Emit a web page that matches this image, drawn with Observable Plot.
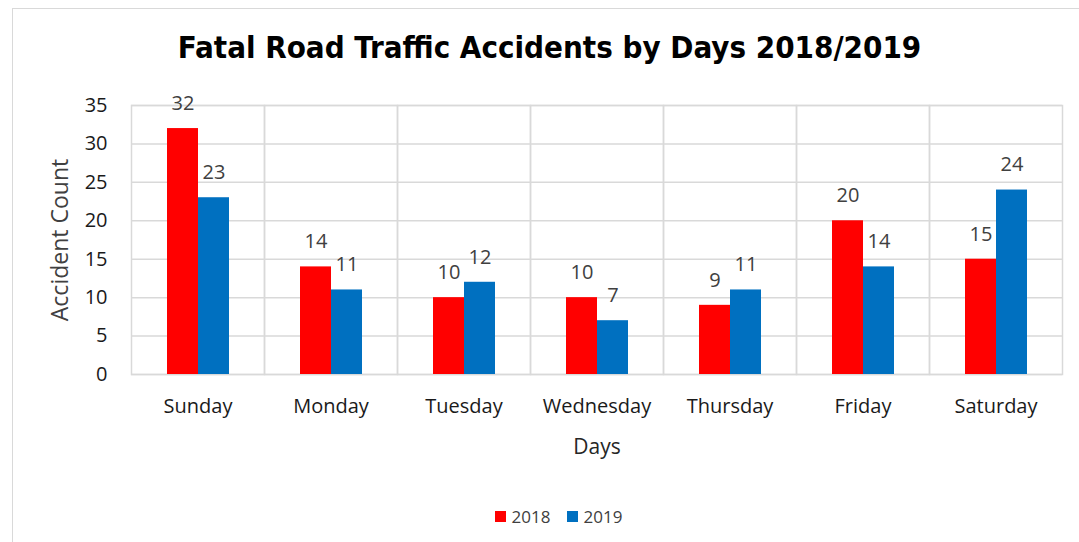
<!DOCTYPE html>
<html>
<head>
<meta charset="utf-8">
<script src="https://cdn.jsdelivr.net/npm/d3@7"></script>
<script src="https://cdn.jsdelivr.net/npm/@observablehq/plot@0.6"></script>
<style>
  html, body { margin: 0; padding: 0; background: #fff; }
  #wrap { position: relative; width: 1079px; height: 542px; overflow: hidden; }
  #frame { position: absolute; left: 12px; top: 8px; width: 1080px; height: 560px; border: 1px solid #d9d9d9; box-sizing: border-box; }
  #title { position: absolute; left: 0; top: 29px; width: 1099px; text-align: center;
    font-family: "Liberation Sans Narrow", "DejaVu Sans Condensed", "Noto Sans", sans-serif; font-stretch: condensed;
    font-weight: bold; font-size: 31px; color: #000; }
  #chart { position: absolute; left: 0; top: 85px; }
  #legend { position: absolute; top: 505px; left: 0; width: 1079px; display: flex; justify-content: center; gap: 16px;
    font-family: "Open Sans", sans-serif; font-size: 17px; color: #404040; padding-left: 38px; box-sizing: border-box; }
  #legend span.item { display: flex; align-items: center; gap: 6px; }
  #legend span.sw { display: inline-block; width: 11px; height: 11px; }
</style>
</head>
<body>
<div id="wrap">
  <div id="frame"></div>
  <div id="title">Fatal Road Traffic Accidents by Days 2018/2019</div>
  <div id="chart"></div>
  <div id="legend"></div>
</div>
<script>
const days = ["Sunday", "Monday", "Tuesday", "Wednesday", "Thursday", "Friday", "Saturday"];
const years = ["2018", "2019"];
const values2018 = [32, 14, 10, 10, 9, 20, 15];
const values2019 = [23, 11, 12, 7, 11, 14, 24];
const colors = ["#ff0000", "#0070c0"];
const yTicks = [0, 5, 10, 15, 20, 25, 30, 35];

const data = [];
days.forEach((d, i) => {
  data.push({day: d, year: years[0], value: values2018[i]});
  data.push({day: d, year: years[1], value: values2019[i]});
});

const plot = Plot.plot({
  width: 1079,
  height: 380,
  marginLeft: 129,
  marginRight: 16,
  marginTop: 20,
  marginBottom: 91,
  style: {fontFamily: "'Open Sans', sans-serif", fontSize: "20px", color: "#1a1a1a", background: "transparent", overflow: "visible"},
  fx: {domain: days, padding: 0, label: "Days", labelAnchor: "center", labelOffset: 79, labelArrow: "none", tickSize: 0, tickPadding: 24},
  x: {domain: years, paddingInner: 0, paddingOuter: 1.08, axis: null},
  y: {domain: [0, 35], ticks: yTicks, label: "Accident Count", labelAnchor: "center", labelOffset: 80, labelArrow: "none", tickSize: 0, tickPadding: 24},
  color: {domain: years, range: colors},
  marks: [
    Plot.ruleY(yTicks, {stroke: "#d9d9d9", strokeWidth: 1.5, strokeOpacity: 1}),
    Plot.frame({stroke: "#d9d9d9", strokeWidth: 1.5}),
    Plot.barY(data, {fx: "day", x: "year", y: "value", fill: "year", inset: 0}),
    Plot.text(data, {fx: "day", x: "year", y: "value", text: d => String(d.value), dy: -25, fill: "#404040", fontSize: 20})
  ]
});
plot.querySelectorAll("[aria-label='y-axis label'] text").forEach(t => { t.setAttribute("fill", "#404040"); t.setAttribute("font-size", "23"); });
plot.querySelectorAll("[aria-label='fx-axis label'] text").forEach(t => { t.setAttribute("fill", "#262626"); t.setAttribute("font-size", "21"); });
document.getElementById("chart").appendChild(plot);

const legend = document.getElementById("legend");
years.forEach((y, i) => {
  const item = document.createElement("span");
  item.className = "item";
  const sw = document.createElement("span");
  sw.className = "sw";
  sw.style.background = colors[i];
  item.appendChild(sw);
  item.appendChild(document.createTextNode(y));
  legend.appendChild(item);
});
</script>
</body>
</html>
